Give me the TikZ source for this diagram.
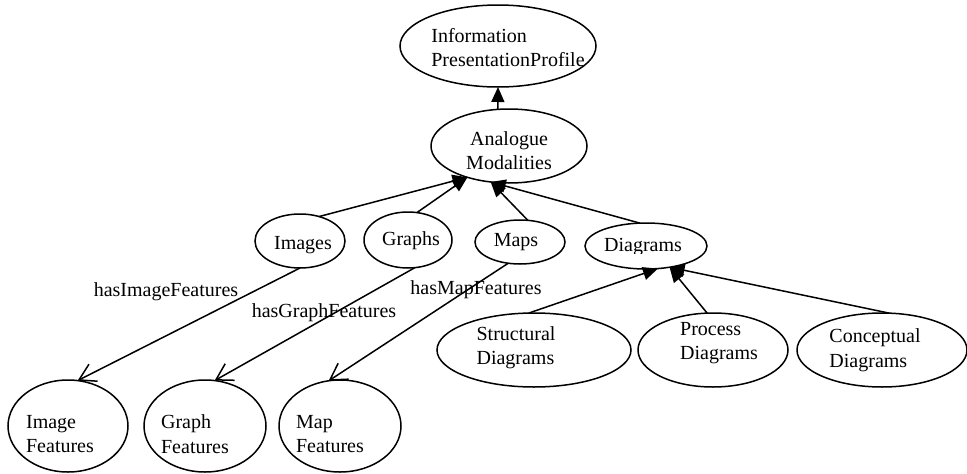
\documentclass[tikz,border=0pt]{standalone}
\usepackage{fontspec}
\setmainfont{Liberation Serif}
\usetikzlibrary{shapes.geometric,arrows.meta}
\begin{document}
\begin{tikzpicture}[x=1pt,y=-1pt,
  oval/.style={draw, ellipse, line width=1.5pt, inner sep=0pt, outer sep=0pt},
  txt/.style={font=\fontsize{20}{24.5}\selectfont, align=left, inner sep=0pt},
  isa/.style={line width=1.5pt, -{Triangle[length=15pt,width=13pt]}},
  has/.style={line width=1.5pt, -{Straight Barb[length=16pt,width=19pt,line width=1.5pt]}}]
\useasboundingbox (0,0) rectangle (967,474);

% ellipses
\node[oval, minimum width=196pt, minimum height=82pt] (info) at (498,46) {};
\node[oval, minimum width=156pt, minimum height=74pt] (ana) at (509,146) {};
\node[oval, minimum width=90pt, minimum height=54pt] (images) at (300,241) {};
\node[oval, minimum width=88pt, minimum height=56pt] (graphs) at (408,240) {};
\node[oval, minimum width=90pt, minimum height=44pt] (maps) at (520,242) {};
\node[oval, minimum width=122pt, minimum height=46pt] (diagrams) at (646,246) {};
\node[oval, minimum width=194pt, minimum height=74pt] (structural) at (534,350) {};
\node[oval, minimum width=150pt, minimum height=74pt] (process) at (713,350) {};
\node[oval, minimum width=170pt, minimum height=74pt] (conceptual) at (882,350) {};
\node[oval, minimum width=120pt, minimum height=92pt] (imgf) at (68,426) {};
\node[oval, minimum width=122pt, minimum height=92pt] (graphf) at (205,426) {};
\node[oval, minimum width=122pt, minimum height=92pt] (mapf) at (340,426) {};

% texts inside the ellipses
\node[txt] (info-t) at (508,47.5) {Information\\PresentationProfile};
\node[txt, align=center] (ana-t) at (509,150.5) {Analogue\\Modalities};
\node[txt] (images-t) at (303,245) {Images};
\node[txt] (graphs-t) at (411,241) {Graphs};
\node[txt] (maps-t) at (516,242) {Maps};
\begin{scope}
  \clip (580,220) rectangle (710,253.5);
  \node[txt] (diagrams-t) at (643,247) {Diagrams};
\end{scope}
\node[txt] (structural-t) at (516,347.5) {Structural\\Diagrams};
\node[txt] (process-t) at (719,343) {Process\\Diagrams};
\node[txt] (conceptual-t) at (875,350) {Conceptual\\Diagrams};
\node[txt] (imgf-t) at (60,434) {Image\\Features};
\node[txt] (graphf-t) at (195,434) {Graph\\Features};
\node[txt] (mapf-t) at (330,434) {Map\\Features};

% relation labels
\node[txt] (l-img) at (166,292) {hasImageFeatures};
\node[txt] (l-graph) at (324,313) {hasGraphFeatures};
\node[txt] (l-map) at (476,290) {hasMapFeatures};

% subclass links
\draw[isa] (ana.107) -- (info.270);
\draw[isa] (images.52) -- (ana.217);
\draw[isa] (graphs.72) -- (ana.217);
\draw[isa] (maps.70) -- (ana.243);
\draw[isa] (diagrams.105) -- (ana.243);
\draw[isa] (structural.98) -- (diagrams.298);
\draw[isa] (process.99) -- (diagrams.318);
\draw[isa] (conceptual.79) -- (diagrams.318);

% feature links
\draw[has] (images.270) -- (imgf.78);
\draw[has] (graphs.284) -- (graphf.78);
\draw[has] (maps.241) -- (mapf.104);
\end{tikzpicture}
\end{document}
